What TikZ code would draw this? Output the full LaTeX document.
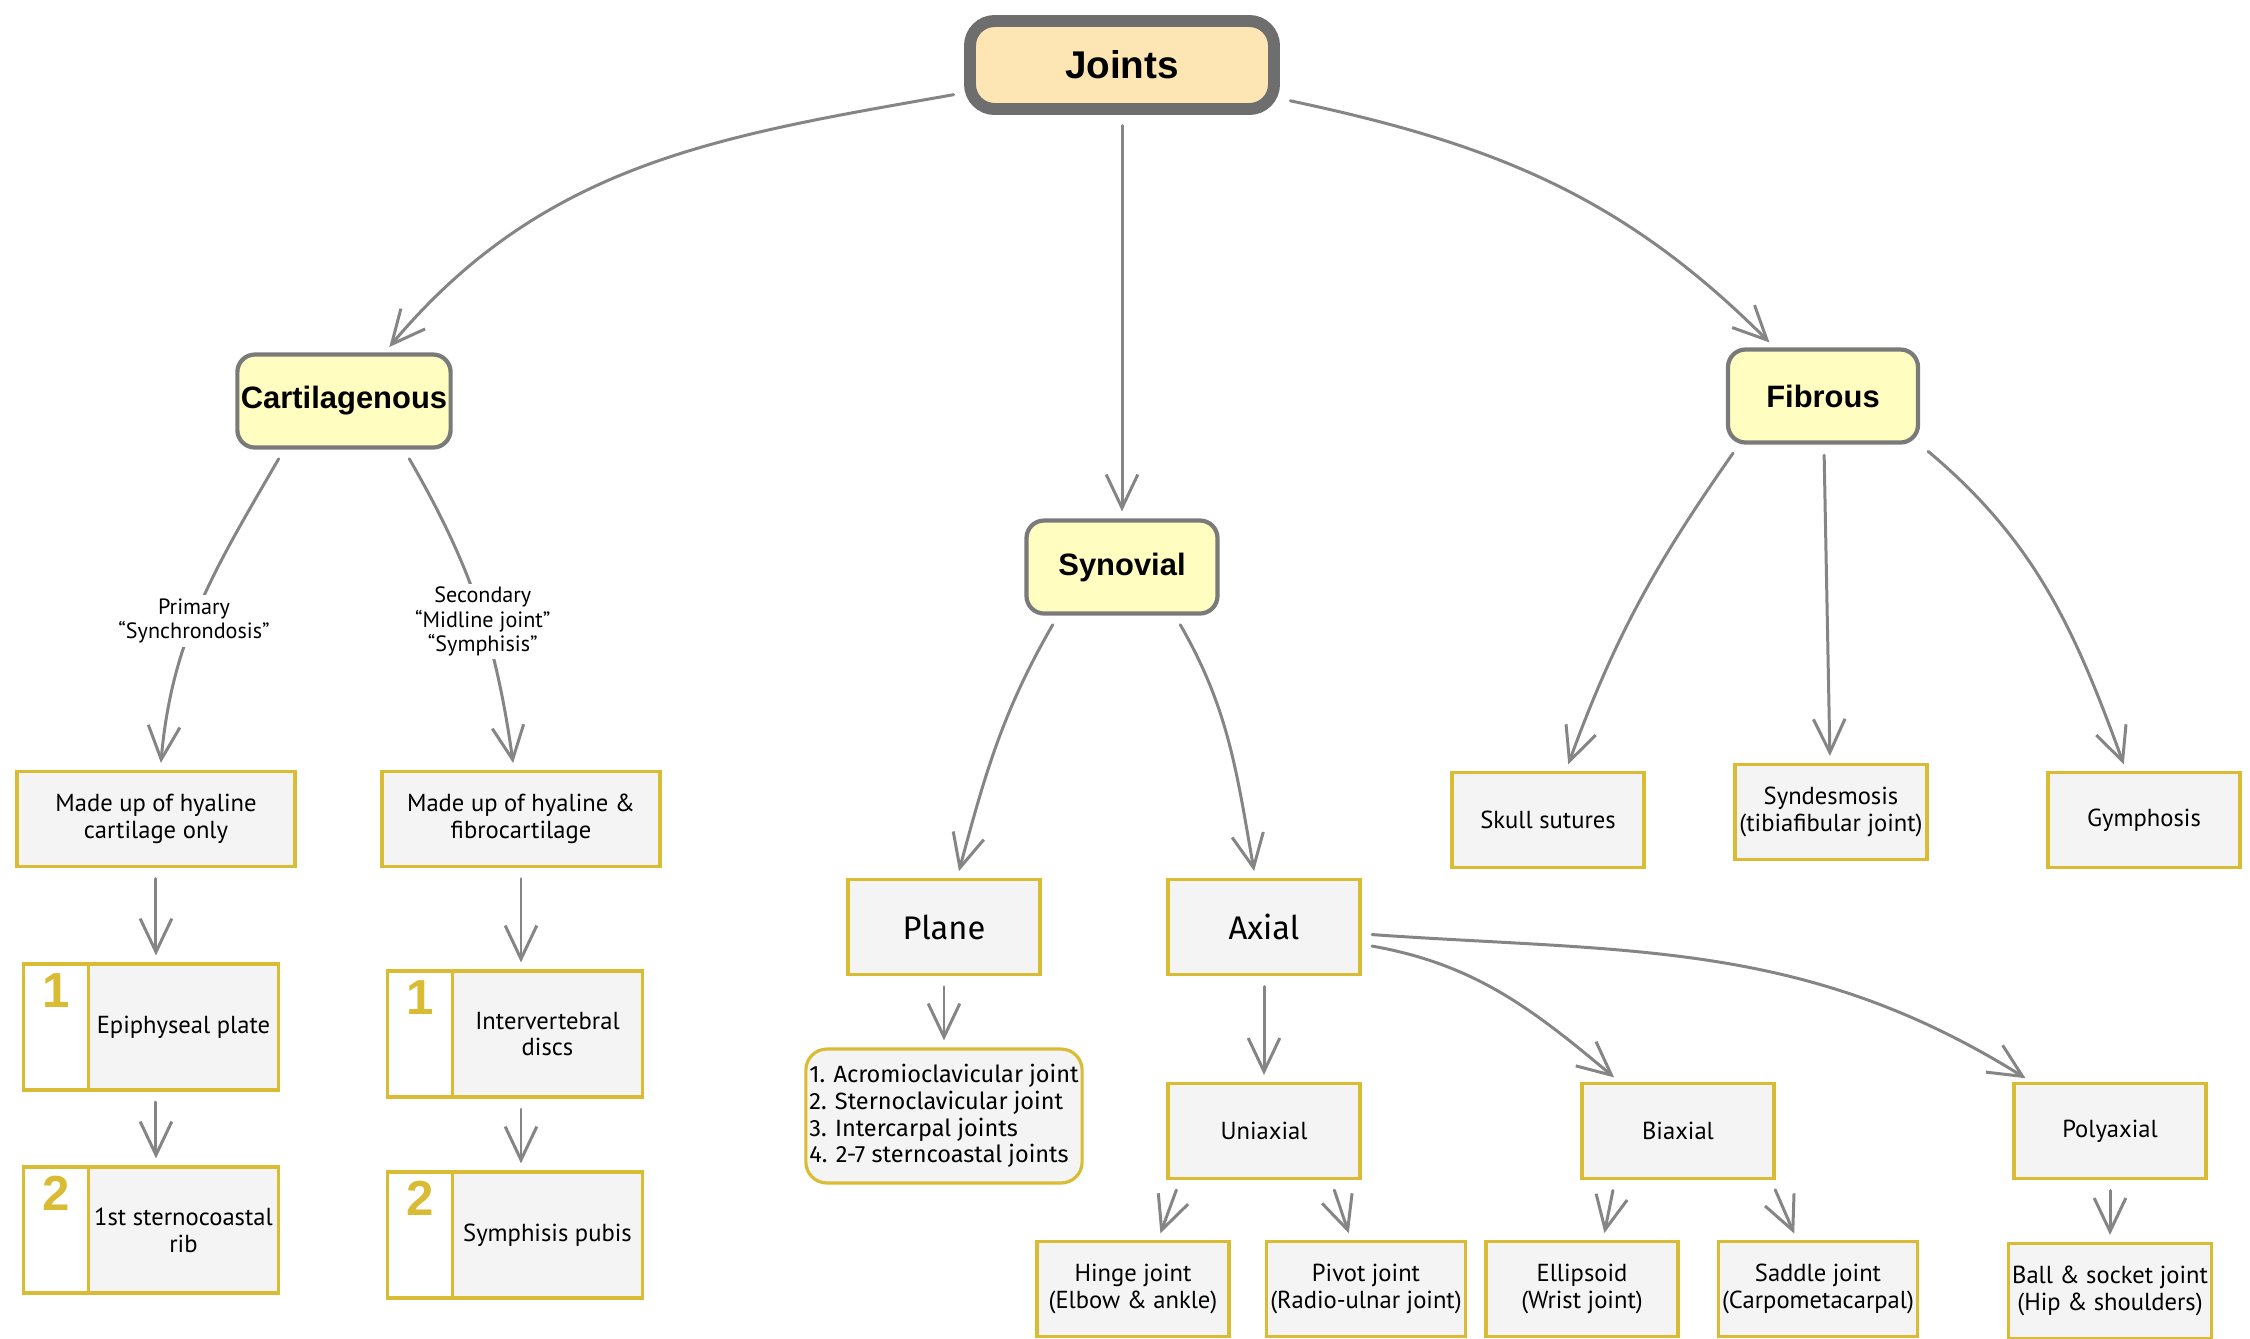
\documentclass[tikz,border=0pt]{standalone}
\usepackage{fontspec}
\setmainfont{PT Sans}
\newfontfamily\headfont{Liberation Sans}
\newfontfamily\listfont{Fira Sans}
\usepackage{tikz}
\usetikzlibrary{arrows.meta}
\definecolor{edgegray}{HTML}{858585}
\definecolor{framegray}{HTML}{7A7A7A}
\definecolor{rootgray}{HTML}{6E6E6E}
\definecolor{rootfill}{HTML}{FDE6B3}
\definecolor{typefill}{HTML}{FFFDC0}
\definecolor{boxgold}{HTML}{D9BC34}
\definecolor{boxfill}{HTML}{F4F4F4}
\tikzstyle{rootblock} = [rectangle, draw=rootgray, line width=3.4pt, fill=rootfill,
    rounded corners=7pt, minimum width=3.04cm, minimum height=0.88cm,
    font=\headfont\bfseries\fontsize{11}{13}\selectfont]
\tikzstyle{typeblock} = [rectangle, draw=framegray, line width=1.2pt, fill=typefill,
    rounded corners=5pt, minimum height=0.93cm, inner xsep=1pt,
    font=\headfont\bfseries\fontsize{8.8}{10}\selectfont]
\tikzstyle{infoblock} = [rectangle, draw=boxgold, line width=0.9pt, fill=boxfill,
    minimum width=1.92cm, minimum height=0.95cm, align=center, inner sep=1pt,
    font=\fontsize{7}{7.6}\selectfont]
\tikzstyle{numblock} = [rectangle, draw=boxgold, line width=0.9pt, fill=white,
    minimum width=0.65cm, minimum height=1.26cm, inner sep=0pt,
    text height=10pt, text depth=21pt, text=boxgold,
    font=\headfont\bfseries\fontsize{14}{14}\selectfont]
\tikzstyle{line} = [draw=edgegray, line width=0.85pt, line cap=round, line join=round,
    shorten <=3pt, shorten >=2pt, -{Straight Barb[length=9.5pt, width=9pt]}]
\tikzstyle{branch} = [fill=white, inner sep=1pt, align=center,
    font=\fontsize{6.3}{6.9}\selectfont]

\begin{document}
\begin{tikzpicture}[node distance = 2cm]
    \path [use as bounding box, fill=white] (-11.22,0.65) rectangle (11.28,-12.73);
    % Place nodes
    \node [rootblock] (joints) {Joints};
    \node [typeblock, minimum width=2.10cm, below of=joints, node distance=3.36cm, xshift=-7.78cm] (cart) {Cartilagenous};
    \node [typeblock, minimum width=1.91cm, below of=joints, node distance=5.02cm] (syn) {Synovial};
    \node [typeblock, minimum width=1.90cm, below of=joints, node distance=3.31cm, xshift=7.01cm] (fib) {Fibrous};
    % cartilagenous branch
    \node [infoblock, minimum width=2.78cm, below of=cart, node distance=4.18cm, xshift=-1.88cm] (hyaline) {Made up of hyaline\\cartilage only};
    \node [infoblock, minimum width=2.78cm, right of=hyaline, node distance=3.65cm] (fibro) {Made up of hyaline \&\\fibrocartilage};
    \node [infoblock, minimum width=1.90cm, minimum height=1.26cm, below of=hyaline, node distance=2.08cm, xshift=2.75mm] (epiphyseal) {Epiphyseal plate};
    \node [numblock, left of=epiphyseal, node distance=1.275cm] (epinum) {1};
    \node [infoblock, minimum width=1.90cm, minimum height=1.26cm, below of=epiphyseal, node distance=2.03cm] (rib) {1st sternocoastal\\rib};
    \node [numblock, left of=rib, node distance=1.275cm] (ribnum) {2};
    \node [infoblock, minimum width=1.90cm, minimum height=1.26cm, below of=fibro, node distance=2.15cm, xshift=2.65mm] (discs) {Intervertebral\\discs};
    \node [numblock, left of=discs, node distance=1.275cm] (discsnum) {1};
    \node [infoblock, minimum width=1.90cm, minimum height=1.26cm, below of=discs, node distance=2.01cm] (pubis) {Symphisis pubis};
    \node [numblock, left of=pubis, node distance=1.275cm] (pubisnum) {2};
    % synovial branch
    \node [infoblock, below of=syn, node distance=3.60cm, xshift=-1.78cm, font=\listfont\fontsize{9.3}{11}\selectfont] (plane) {Plane};
    \node [infoblock, right of=plane, node distance=3.20cm, font=\listfont\fontsize{9.3}{11}\selectfont] (axial) {Axial};
    \node [infoblock, below of=plane, node distance=1.89cm, minimum width=2.74cm, minimum height=1.34cm, rounded corners=6pt, align=left, font=\listfont\fontsize{6.7}{7.6}\selectfont] (planelist) {1. Acromioclavicular joint\\2. Sternoclavicular joint\\3. Intercarpal joints\\4. 2-7 sterncoastal joints};
    \node [infoblock, below of=axial, node distance=2.04cm] (uni) {Uniaxial};
    \node [infoblock, right of=uni, node distance=4.14cm] (bi) {Biaxial};
    \node [infoblock, right of=bi, node distance=4.32cm] (poly) {Polyaxial};
    \node [infoblock, below of=uni, node distance=1.58cm, xshift=-1.31cm] (hinge) {Hinge joint\\(Elbow \& ankle)};
    \node [infoblock, right of=hinge, node distance=2.33cm] (pivot) {Pivot joint\\(Radio-ulnar joint)};
    \node [infoblock, right of=pivot, node distance=2.16cm] (ellipsoid) {Ellipsoid\\(Wrist joint)};
    \node [infoblock, right of=ellipsoid, node distance=2.36cm] (saddle) {Saddle joint\\(Carpometacarpal)};
    \node [infoblock, below of=poly, node distance=1.60cm] (ball) {Ball \& socket joint\\(Hip \& shoulders)};
    % fibrous branch
    \node [infoblock, below of=fib, node distance=4.24cm, xshift=-2.75cm] (skull) {Skull sutures};
    \node [infoblock, right of=skull, node distance=2.83cm, yshift=0.8mm] (syndes) {Syndesmosis\\(tibiafibular joint)};
    \node [infoblock, right of=skull, node distance=5.96cm] (gym) {Gymphosis};
    % Draw edges
    \path [line] (joints) to[out=190, in=50] (cart);
    \path [line] (joints) -- (syn);
    \path [line] (joints) to[out=-12, in=135] (fib);
    \path [line] ([xshift=-6mm]cart.south) to[out=240, in=85] node[branch, pos=0.56] {Primary\\“Synchrondosis”} (hyaline);
    \path [line] ([xshift=6mm]cart.south) to[out=-60, in=98] node[branch, pos=0.56] {Secondary\\“Midline joint”\\“Symphisis”} (fibro);
    \path [line] (hyaline) -- (hyaline |- epiphyseal.north);
    \path [line] (hyaline |- epiphyseal.south) -- (hyaline |- rib.north);
    \path [line] (fibro) -- (fibro |- discs.north);
    \path [line] (fibro |- discs.south) -- (fibro |- pubis.north);
    \path [line] ([xshift=-6.4mm]syn.south) to[out=240, in=75] (plane);
    \path [line] ([xshift=5.3mm]syn.south) to[out=-60, in=100] (axial);
    \path [line] (plane) -- (planelist);
    \path [line] (axial) -- (uni);
    \path [line] (axial) to[out=-10, in=140] (bi);
    \path [line] (axial) to[out=-4, in=148] (poly);
    \path [line] ([xshift=-8.4mm]uni.south) -- ([xshift=2.5mm]hinge.north);
    \path [line] ([xshift=6.7mm]uni.south) -- ([xshift=-1.5mm]pivot.north);
    \path [line] ([xshift=-6.3mm]bi.south) -- ([xshift=2.1mm]ellipsoid.north);
    \path [line] ([xshift=9.3mm]bi.south) -- ([xshift=-2.1mm]saddle.north);
    \path [line] (poly) -- (ball);
    \path [line] ([xshift=-8.4mm]fib.south) to[out=235, in=70] (skull);
    \path [line] (fib) -- (syndes);
    \path [line] (fib.south east) to[out=-40, in=110] (gym);
\end{tikzpicture}
\end{document}
